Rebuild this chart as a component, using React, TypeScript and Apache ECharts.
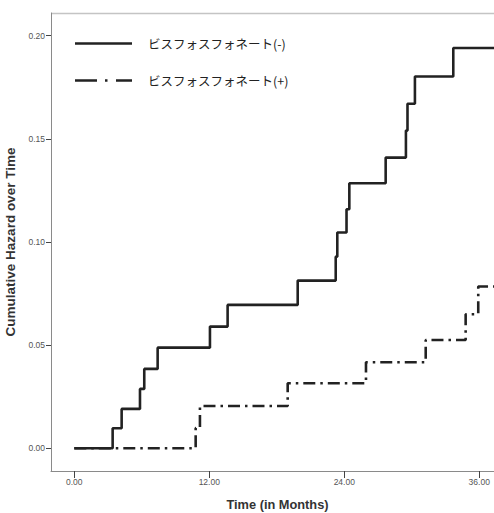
import React, { useEffect, useRef } from "react";
import * as echarts from "echarts";

const seriesNames = ["ビスフォスフォネート(-)", "ビスフォスフォネート(+)"];
const xTicks = [0, 12, 24, 36];
const yTicks = [0, 0.05, 0.1, 0.15, 0.2];

const negTimes = [0, 3.41, 4.21, 5.84, 6.22, 7.41, 12.06, 13.63, 19.86, 23.24, 23.38, 24.2, 24.45, 27.68, 29.48, 29.62, 30.28, 33.69, 37.31];
const negValues = [0, 0.0097, 0.0191, 0.0288, 0.0385, 0.0488, 0.059, 0.0695, 0.0813, 0.0929, 0.1046, 0.1159, 0.1285, 0.1409, 0.154, 0.167, 0.1802, 0.194, 0.194];

const posTimes = [0, 10.79, 11.17, 18.97, 25.93, 31.24, 34.79, 35.91, 37.31];
const posValues = [0, 0.0098, 0.0205, 0.0315, 0.0417, 0.0525, 0.065, 0.0784, 0.0784];

export default function App() {
  const ref = useRef<HTMLDivElement>(null);
  useEffect(() => {
    if (!ref.current) return;
    const chart = echarts.init(ref.current, null, { renderer: "svg" });
    const axisGray = "#8a8a8a";
    const labelStyle = { color: "#555", fontSize: 8.5, fontFamily: "Liberation Sans, Arial, sans-serif" };
    chart.setOption({
      animation: false,
      backgroundColor: "#fff",
      grid: { left: 51, top: 13, right: 0, bottom: 42, containLabel: false, outerBoundsMode: "none" },
      xAxis: {
        type: "value",
        min: -2.07,
        max: 37.31,
        name: "Time (in Months)",
        nameLocation: "middle",
        nameGap: 27,
        nameTextStyle: { color: "#333", fontSize: 12.8, fontWeight: "bold", fontFamily: "Liberation Sans, Arial, sans-serif", padding: [0, 0, 0, 10] },
        axisLine: { onZero: false, lineStyle: { color: axisGray, width: 1 } },
        axisTick: { customValues: xTicks, length: 7, lineStyle: { color: "#444" } },
        axisLabel: { customValues: xTicks, formatter: (v: number) => v.toFixed(2), margin: 6, ...labelStyle },
        splitLine: { show: false },
      },
      yAxis: {
        type: "value",
        min: -0.011,
        max: 0.211,
        name: "Cumulative Hazard over Time",
        nameLocation: "middle",
        nameRotate: 90,
        nameGap: 31,
        nameTextStyle: { color: "#333", fontSize: 13.5, fontWeight: "bold", fontFamily: "Liberation Sans, Arial, sans-serif" },
        axisLine: { show: true, onZero: false, lineStyle: { color: axisGray, width: 1 } },
        axisTick: { show: true, customValues: yTicks, length: 5, lineStyle: { color: "#444" } },
        axisLabel: { customValues: yTicks, formatter: (v: number) => v.toFixed(2), margin: 6, ...labelStyle },
        splitLine: { show: false },
      },
      series: [
        {
          name: seriesNames[0],
          type: "line",
          step: "end",
          symbol: "none",
          data: negTimes.map((t, i) => [t, negValues[i]]),
          lineStyle: { color: "#222", width: 2.6 },
        },
        {
          name: seriesNames[1],
          type: "line",
          step: "end",
          symbol: "none",
          data: posTimes.map((t, i) => [t, posValues[i]]),
          lineStyle: { color: "#222", width: 2.6, type: [12, 5, 2.5, 5] },
        },
      ],
      graphic: [
        { type: "line", shape: { x1: 51, y1: 13.5, x2: 494, y2: 13.5 }, style: { stroke: "#c4c4c4", lineWidth: 1.5 } },
        { type: "line", shape: { x1: 75, y1: 43.5, x2: 132, y2: 43.5 }, style: { stroke: "#222", lineWidth: 2.6 } },
        { type: "line", shape: { x1: 75, y1: 80.5, x2: 132, y2: 80.5 }, style: { stroke: "#222", lineWidth: 2.6, lineDash: [22, 8, 2.5, 8.5] } },
        { type: "text", x: 148, y: 43.5, style: { text: seriesNames[0], fill: "#222", fontSize: 12.5, fontFamily: "Noto Sans CJK JP", verticalAlign: "middle" } },
        { type: "text", x: 148, y: 80.5, style: { text: seriesNames[1], fill: "#222", fontSize: 12.5, fontFamily: "Noto Sans CJK JP", verticalAlign: "middle" } },
      ],
    });
    return () => chart.dispose();
  }, []);
  return <div ref={ref} style={{ position: "fixed", left: 0, top: 0, width: 494, height: 513 }} />;
}
